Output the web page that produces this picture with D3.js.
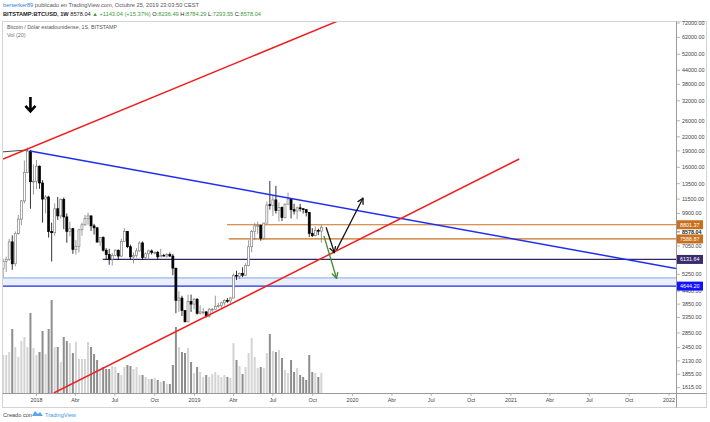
<!DOCTYPE html>
<html><head><meta charset="utf-8">
<script src="https://cdn.jsdelivr.net/npm/d3@7"></script>
<style>body{margin:0;background:#fff}svg{display:block;font-family:"Liberation Sans",Arial,sans-serif}</style>
</head><body><svg id="c" width="710" height="422"></svg>
<script>
// ---------- DATA ----------
const firstWeek = "2017-10-16";
const opens  = [5590,6000,6140,7360,5860,8020,9330,11290,15170,18960,13780,13850,16200,13600,11500,11750,8200,8100,10400,9650,11450,9550,8200,8450,6800,7030,8350,8800,9400,9650,8700,8520,7350,7700,6750,6450,6150,6380,6750,6350,7400,8200,7000,6300,6400,6700,7280,6250,6500,6700,6600,6600,6300,6400,6350,6450,6350,5600,4000,4100,3600,3200,3950,3850,4050,3500,3550,3550,3400,3650,3650,3750,3800,3900,4000,3980,4100,5200,5150,5300,5200,5750,7000,8200,8700,8720,7650,8950,10850,10750,11400,10200,10550,9500,10900,11500,10300,10150,10500,10400,10300,10000,8050,7850,8300,8236.49];
const highs  = [6190,6320,7610,7880,8200,9740,11400,17170,19666,19200,16500,17250,16300,14000,12000,11900,9000,11000,11750,11600,11700,9900,9100,8500,7500,8450,9000,9750,9990,9700,8880,8600,7750,7800,6900,6850,6550,6800,6800,7600,8500,8250,7150,6600,6900,7400,7400,6600,6800,6800,6680,6700,6850,6500,6550,6600,6500,5600,4400,4200,3600,4250,4250,4100,4100,3800,3700,3580,3700,3700,4200,3900,3950,4050,4100,4150,5300,5450,5350,5650,5900,7500,8350,8950,9100,8800,9000,11200,13880,12000,13200,11100,10650,11000,12300,11500,10950,10650,10950,10450,10350,10050,8500,8650,8450,8784.29];
const lows   = [5100,5380,6040,5500,5700,7950,8760,11000,15050,10400,12050,12750,12800,9000,9900,7700,6000,7850,9250,9400,8400,7300,7800,6500,6450,6600,7850,8700,8800,8250,7950,7300,7050,6650,6100,5800,5750,6350,6100,6300,7400,6900,6150,5880,6250,6650,6100,6150,6120,6450,6470,6100,6300,6350,6250,6300,5200,3500,3550,3400,3200,3200,3550,3650,3450,3450,3450,3350,3350,3550,3650,3700,3700,3800,3900,3900,4100,4950,5000,5100,5150,5700,6600,7500,8000,7450,7500,8950,10300,9650,9900,9100,9150,9400,10900,9400,9800,9350,10100,9900,9600,7750,7750,7800,7900,7293.55];
const closes = [6000,6140,7360,5860,8020,9330,11290,15170,18960,13780,13850,16200,13600,11500,11750,8200,8100,10400,9650,11450,9550,8200,8450,6800,7030,8350,8800,9400,9650,8700,8520,7350,7700,6750,6450,6150,6380,6750,6350,7400,8200,7000,6300,6400,6700,7280,6250,6500,6700,6600,6600,6300,6400,6350,6450,6350,5600,4000,4100,3600,3200,3950,3850,4050,3500,3550,3550,3400,3650,3650,3750,3800,3900,4000,3980,4100,5200,5150,5300,5200,5750,7000,8200,8700,8720,7650,8950,10800,10750,11400,10200,10550,9500,10900,11500,10300,10150,10500,10400,10300,10000,8050,7850,8300,8230,8578.04];
const volumes = [114000,114000,123000,192000,138000,108000,156000,168000,138000,240000,135000,114000,123000,186000,117000,192000,279000,138000,138000,93000,168000,156000,150000,120000,153000,102000,102000,102000,153000,138000,117000,99000,72000,78000,72000,72000,81000,78000,60000,54000,78000,84000,81000,72000,78000,54000,54000,48000,42000,42000,45000,39000,33000,36000,27000,27000,84000,198000,138000,123000,120000,135000,93000,60000,78000,63000,48000,54000,48000,57000,63000,54000,48000,54000,48000,45000,150000,99000,81000,57000,78000,120000,165000,108000,75000,78000,75000,120000,177000,126000,123000,129000,105000,69000,60000,99000,63000,75000,54000,48000,39000,114000,63000,60000,48000,60000];

const priceTicks = [72000,62000,52000,44000,38000,32000,26000,22000,19000,16000,13500,11500,9900,7050,5250,4400,3850,3350,2850,2450,2130,1855,1615];
const timeTickDates  = ["2018-01-01","2018-04-01","2018-07-01","2018-10-01","2019-01-01","2019-04-01","2019-07-01","2019-10-01","2020-01-01","2020-04-01","2020-07-01","2020-10-01","2021-01-01","2021-04-01","2021-07-01","2021-10-01","2022-01-01"];
const timeTickLabels = ["2018","Abr","Jul","Oct","2019","Abr","Jul","Oct","2020","Abr","Jul","Oct","2021","Abr","Jul","Oct","2022"];

const redUpper  = [["2017-10-16",17460],["2019-11-28",73500]];
const redLower  = [["2018-02-10",1526],["2021-01-20",17460]];
const blueLine  = [["2017-12-17",18980],["2022-01-17",5580]];
const blackTop  = [["2017-10-14",18800],["2017-12-13",19200]];
const orangeLevels = [{price:8801.37, from:"2019-03-17"},{price:7588.87, from:"2019-03-21"}];
const purpleLevel  = {price:6131.64, from:"2018-06-03"};
const zoneLow = 4644.20, zoneHigh = 5058;
const lastPrice = 8578.04;
const blackArrowDown = [["2019-11-01",8577],["2019-11-20",6582]];
const blackArrowUp   = [["2019-11-25",6765],["2020-01-25",11600]];
const greenArrow     = [["2019-10-27",7834],["2019-11-25",5040]];
const markerPoint    = ["2017-12-18",31000];

// ---------- SCALES ----------
const svg = d3.select("#c");
const P = {l:3, r:676, t:22, b:393};
const x = d3.scaleUtc().domain([new Date("2018-01-01"), new Date("2022-01-01")]).range([36.5, 669]);
const y = d3.scaleLog().domain([72000, 1615]).range([23, 387.5]);
const yv = d3.scaleLinear().domain([0, 300000]).range([P.b, P.b - 100]);
const weeks = d3.utcMonday.range(new Date(firstWeek), d3.utcDay.offset(new Date("2019-10-21"), 1));
const bars = weeks.map((d,i)=>({d, o:opens[i], h:highs[i], l:lows[i], c:closes[i], v:volumes[i]}));
const pt = p => [x(new Date(p[0])), y(p[1])];

svg.append("rect").attr("width",710).attr("height",422).attr("fill","#fff");

// ---------- HEADER ----------
const h1 = svg.append("text").attr("x",3).attr("y",6.5).attr("font-size",5.6).attr("fill","#555")
  .attr("textLength",196).attr("lengthAdjust","spacingAndGlyphs");
h1.append("tspan").attr("fill","#2f7fd8").text("berserker89");
h1.append("tspan").text(" publicado en TradingView.com, Octubre 25, 2019 23:03:50 CEST");
const h2 = svg.append("text").attr("x",3).attr("y",15.5).attr("font-size",5.6).attr("fill","#222")
  .attr("textLength",258).attr("lengthAdjust","spacingAndGlyphs");
h2.append("tspan").attr("font-weight","bold").text("BITSTAMP:BTCUSD, 1W ");
h2.append("tspan").text(" 8578.04 ");
h2.append("tspan").attr("fill","#3a9a3a").text("▲ +1143.04 (+15.37%) ");
h2.append("tspan").text("O:"); h2.append("tspan").attr("fill","#3a9a3a").text("8236.49 ");
h2.append("tspan").text("H:"); h2.append("tspan").attr("fill","#3a9a3a").text("8784.29 ");
h2.append("tspan").text("L:"); h2.append("tspan").attr("fill","#3a9a3a").text("7293.55 ");
h2.append("tspan").text("C:"); h2.append("tspan").attr("fill","#3a9a3a").text("8578.04");

// ---------- FRAME ----------
svg.append("rect").attr("x",2.5).attr("y",21.5).attr("width",704).attr("height",386)
  .attr("fill","none").attr("stroke","#d4d4d4");
svg.append("line").attr("x1",P.r+0.5).attr("x2",P.r+0.5).attr("y1",21.5).attr("y2",407.5).attr("stroke","#9a9a9a");
svg.append("line").attr("x1",2.5).attr("x2",706.5).attr("y1",P.b+0.5).attr("y2",P.b+0.5).attr("stroke","#9a9a9a");

svg.append("text").attr("x",7).attr("y",29).attr("font-size",5.4).attr("fill","#555")
  .attr("textLength",110).attr("lengthAdjust","spacingAndGlyphs")
  .text("Bitcoin / Dólar estadounidense, 1S, BITSTAMP");
svg.append("text").attr("x",7).attr("y",37).attr("font-size",5.4).attr("fill","#777").text("Vol (20)");

svg.append("defs").append("clipPath").attr("id","plot").append("rect")
  .attr("x",P.l).attr("y",P.t).attr("width",P.r-P.l).attr("height",P.b-P.t);
const g = svg.append("g").attr("clip-path","url(#plot)");

// zone band
g.append("rect").attr("x",P.l).attr("width",P.r-P.l).attr("y",y(zoneHigh)).attr("height",y(zoneLow)-y(zoneHigh))
  .attr("fill","#e9effc");
g.append("line").attr("x1",P.l).attr("x2",P.r).attr("y1",y(zoneHigh)).attr("y2",y(zoneHigh)).attr("stroke","#86a5e6").attr("stroke-width",1);
g.append("line").attr("x1",P.l).attr("x2",P.r).attr("y1",y(zoneLow)).attr("y2",y(zoneLow)).attr("stroke","#1c2fd8").attr("stroke-width",1.3);

// volume
g.selectAll(".vol").data(bars).join("rect")
  .attr("x",d=>x(d.d)-1).attr("width",2).attr("y",d=>yv(d.v)).attr("height",d=>P.b-yv(d.v))
  .attr("fill",d=>d.c>=d.o?"#d4d4d4":"#8e8e8e");

// levels
g.append("line").attr("x1",x(new Date(purpleLevel.from))).attr("x2",P.r).attr("y1",y(purpleLevel.price)).attr("y2",y(purpleLevel.price))
  .attr("stroke","#33275f").attr("stroke-width",1.3);
orangeLevels.forEach(o=>{
  g.append("line").attr("x1",x(new Date(o.from))).attr("x2",P.r).attr("y1",y(o.price)).attr("y2",y(o.price))
   .attr("stroke","#c8701e").attr("stroke-width",1.2);
});

// candles
const cg = g.append("g");
cg.selectAll(".wick").data(bars).join("line")
  .attr("x1",d=>x(d.d)).attr("x2",d=>x(d.d)).attr("y1",d=>y(d.h)).attr("y2",d=>y(d.l))
  .attr("stroke",d=>d.c>=d.o?"#808080":"#000").attr("stroke-width",0.8);
cg.selectAll(".body").data(bars).join("rect")
  .attr("x",d=>x(d.d)-1).attr("width",2)
  .attr("y",d=>y(Math.max(d.o,d.c))).attr("height",d=>Math.max(0.8,Math.abs(y(d.o)-y(d.c))))
  .attr("fill",d=>d.c>=d.o?"#fff":"#000").attr("stroke",d=>d.c>=d.o?"#808080":"#000").attr("stroke-width",0.7);

// trend lines
const line = d3.line().x(p=>pt(p)[0]).y(p=>pt(p)[1]);
g.append("path").attr("d",line(blackTop)).attr("stroke","#333").attr("stroke-width",0.9).attr("fill","none");
g.append("path").attr("d",line(blueLine)).attr("stroke","#1f2ff0").attr("stroke-width",1.5).attr("fill","none");
g.append("path").attr("d",line(redUpper)).attr("stroke","#f01e1e").attr("stroke-width",1.5).attr("fill","none");
g.append("path").attr("d",line(redLower)).attr("stroke","#f01e1e").attr("stroke-width",1.5).attr("fill","none");

function arrow(pts,color){
  const [a,b]=pts.map(pt);
  g.append("line").attr("x1",a[0]).attr("y1",a[1]).attr("x2",b[0]).attr("y2",b[1]).attr("stroke",color).attr("stroke-width",1.3);
  const ang=Math.atan2(b[1]-a[1],b[0]-a[0]), L=6;
  [-0.5,0.5].forEach(s=>{
    g.append("line").attr("x1",b[0]).attr("y1",b[1])
     .attr("x2",b[0]-L*Math.cos(ang+s)).attr("y2",b[1]-L*Math.sin(ang+s))
     .attr("stroke",color).attr("stroke-width",1.3).attr("stroke-linecap","round");
  });
}
arrow(blackArrowDown,"#111");
arrow(blackArrowUp,"#111");
arrow(greenArrow,"#3f8a2c");

// marker arrow (down)
const mp = pt(markerPoint);
g.append("path").attr("d",`M${mp[0]},${mp[1]-7}V${mp[1]+7}M${mp[0]-5},${mp[1]+2}L${mp[0]},${mp[1]+7.5}L${mp[0]+5},${mp[1]+2}`)
  .attr("stroke","#000").attr("stroke-width",2.6).attr("fill","none").attr("stroke-linejoin","miter");

// ---------- PRICE AXIS ----------
const ax = svg.append("g").attr("font-size",5.4).attr("fill","#444");
priceTicks.forEach(p=>{
  ax.append("line").attr("x1",P.r+1).attr("x2",P.r+4).attr("y1",y(p)).attr("y2",y(p)).attr("stroke","#888").attr("stroke-width",0.6);
  ax.append("text").attr("x",P.r+6).attr("y",y(p)+1.9).text(p.toFixed(2));
});
function priceBox(p,color){
  svg.append("rect").attr("x",P.r+1).attr("y",y(p)-4.5).attr("width",26).attr("height",9).attr("fill",color);
  svg.append("text").attr("x",P.r+4).attr("y",y(p)+1.9).attr("font-size",5.4).attr("fill","#fff").text(p.toFixed(2));
}
priceBox(orangeLevels[0].price,"#c8701e");
priceBox(orangeLevels[1].price,"#c8701e");
priceBox(purpleLevel.price,"#3a2b6e");
priceBox(zoneLow,"#1212ff");
const lpY = (y(orangeLevels[0].price)+y(orangeLevels[1].price))/2;
svg.append("line").attr("x1",P.r+1).attr("x2",P.r+4).attr("y1",lpY).attr("y2",lpY).attr("stroke","#222").attr("stroke-width",0.6);
svg.append("text").attr("x",P.r+6).attr("y",lpY+1.9).attr("font-size",5.4).attr("font-weight","bold").attr("fill","#222").text(lastPrice.toFixed(2));

// ---------- TIME AXIS ----------
const tx = svg.append("g").attr("font-size",5.4).attr("fill","#444").attr("text-anchor","middle");
timeTickDates.forEach((d,i)=>{
  const xx = x(new Date(d));
  tx.append("line").attr("x1",xx).attr("x2",xx).attr("y1",P.b+1).attr("y2",P.b+3).attr("stroke","#888").attr("stroke-width",0.6);
  tx.append("text").attr("x",xx).attr("y",P.b+8.5).text(timeTickLabels[i]);
});

// ---------- FOOTER ----------
const f = svg.append("text").attr("x",3).attr("y",416.5).attr("font-size",5.6).attr("fill","#444");
f.append("tspan").text("Creado con");
svg.append("path").attr("d","M32,416 l3,-5 l3,3 l2,-2 l3,4 z").attr("fill","#5aa7e6");
svg.append("text").attr("x",45).attr("y",416.5).attr("font-size",5.6).attr("fill","#3d95de").text("TradingView");
</script></body></html>
